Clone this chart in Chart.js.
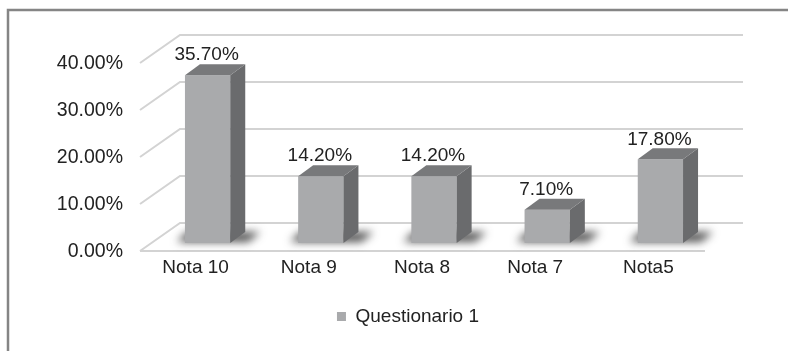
<!DOCTYPE html>
<html>
<head>
<meta charset="utf-8">
<script src="https://cdn.jsdelivr.net/npm/chart.js@4/dist/chart.umd.min.js"></script>
<style>
  html, body { margin: 0; padding: 0; background: #fff; }
  #wrap { width: 788px; height: 351px; position: relative; }
</style>
</head>
<body>
<div id="wrap"><canvas id="chart"></canvas></div>
<script>
const categories = ["Nota 10", "Nota 9", "Nota 8", "Nota 7", "Nota5"];
const seriesName = "Questionario 1";
const values = [35.7, 14.2, 14.2, 7.1, 17.8];
const yTicks = [0, 10, 20, 30, 40];

const FONT = "'Liberation Sans', Arial, sans-serif";
const TEXT = "#222222";
const FRONT = "#a9aaac";
const SIDE = "#6a6b6d";
const TOP = "#78797b";
const GRID = "#d3d3d3";
const DX = 15, DY = 11;       // bar depth
const FLOOR_Y = 243;          // pixel of 0 on the front face

const pct = v => v.toFixed(2) + "%";

// frame, floor, gridlines and bar shadows
const backdrop = {
  id: "backdrop",
  beforeDraw(chart) {
    const ctx = chart.ctx;
    ctx.save();
    ctx.strokeStyle = "#858585";
    ctx.lineWidth = 2.5;
    ctx.strokeRect(8, 10, 900, 500);
    ctx.restore();
  },
  beforeDatasetsDraw(chart) {
    const ctx = chart.ctx;
    const y = chart.scales.y;
    const area = chart.chartArea;
    const frontL = area.left - 11, backL = area.left + 29;
    const backR = area.right + 26, frontR = area.right - 12;
    ctx.save();
    ctx.strokeStyle = GRID;
    ctx.lineWidth = 2;
    yTicks.forEach(t => {
      const py = y.getPixelForValue(t);
      ctx.beginPath();
      ctx.moveTo(frontL, py + 8);
      ctx.lineTo(backL, py - 20);
      ctx.lineTo(backR, py - 20);
      ctx.stroke();
    });
    const p0 = y.getPixelForValue(0);
    ctx.beginPath();
    ctx.moveTo(frontL, p0 + 8);
    ctx.lineTo(frontR, p0 + 8);
    ctx.stroke();

    // soft shadows on the floor
    ctx.filter = "blur(4px)";
    ctx.fillStyle = "rgba(40,40,40,0.8)";
    chart.getDatasetMeta(0).data.forEach(bar => {
      const l = bar.x - bar.width / 2, r = bar.x + bar.width / 2, b = bar.base;
      ctx.beginPath();
      ctx.moveTo(l - 8, b - 1);
      ctx.lineTo(r + 18, b - 1);
      ctx.lineTo(r + 30, b - DY);
      ctx.lineTo(l + 2, b - DY);
      ctx.closePath();
      ctx.fill();
    });
    ctx.restore();
  },
  afterDatasetsDraw(chart) {
    const ctx = chart.ctx;
    ctx.save();
    chart.getDatasetMeta(0).data.forEach((bar, i) => {
      const l = bar.x - bar.width / 2, r = bar.x + bar.width / 2;
      const t = bar.y, b = bar.base;
      ctx.fillStyle = SIDE;
      ctx.beginPath();
      ctx.moveTo(r, t);
      ctx.lineTo(r + DX, t - DY);
      ctx.lineTo(r + DX, b - DY);
      ctx.lineTo(r, b);
      ctx.closePath();
      ctx.fill();
      ctx.fillStyle = TOP;
      ctx.beginPath();
      ctx.moveTo(l, t);
      ctx.lineTo(l + DX, t - DY);
      ctx.lineTo(r + DX, t - DY);
      ctx.lineTo(r, t);
      ctx.closePath();
      ctx.fill();

      ctx.fillStyle = TEXT;
      ctx.font = "19px " + FONT;
      ctx.textAlign = "center";
      ctx.textBaseline = "middle";
      ctx.fillText(pct(values[i]), bar.x - 1, t - 20);
    });
    ctx.restore();
  }
};

new Chart(document.getElementById("chart"), {
  type: "bar",
  data: {
    labels: categories,
    datasets: [{
      label: seriesName,
      data: values,
      backgroundColor: FRONT,
      borderWidth: 0,
      categoryPercentage: 0.4,
      barPercentage: 1
    }]
  },
  options: {
    responsive: true,
    maintainAspectRatio: false,
    animation: false,
    layout: { padding: { left: 28, right: 0, top: 55, bottom: 15 } },
    plugins: {
      legend: {
        position: "bottom",
        labels: {
          boxWidth: 9,
          boxHeight: 9,
          padding: 10,
          color: TEXT,
          font: { family: FONT, size: 19 }
        }
      },
      tooltip: { enabled: false }
    },
    scales: {
      x: {
        grid: { display: false },
        border: { display: false },
        ticks: { color: TEXT, font: { family: FONT, size: 19 }, padding: 5, labelOffset: -12 },
        afterFit: s => { s.height = s.chart.height - 15 - s.chart.legend.height - FLOOR_Y; }
      },
      y: {
        min: 0,
        max: 40,
        grid: { display: false },
        border: { display: false },
        ticks: {
          stepSize: 10,
          color: TEXT,
          font: { family: FONT, size: 19.5 },
          padding: 20,
          labelOffset: 9,
          callback: v => pct(v)
        },
        afterFit: s => { s.width = 123; }
      },
      yRight: {
        position: "right",
        grid: { display: false },
        border: { display: false },
        ticks: { display: false },
        afterFit: s => { s.width = 71; }
      }
    }
  },
  plugins: [backdrop]
});
</script>
</body>
</html>
